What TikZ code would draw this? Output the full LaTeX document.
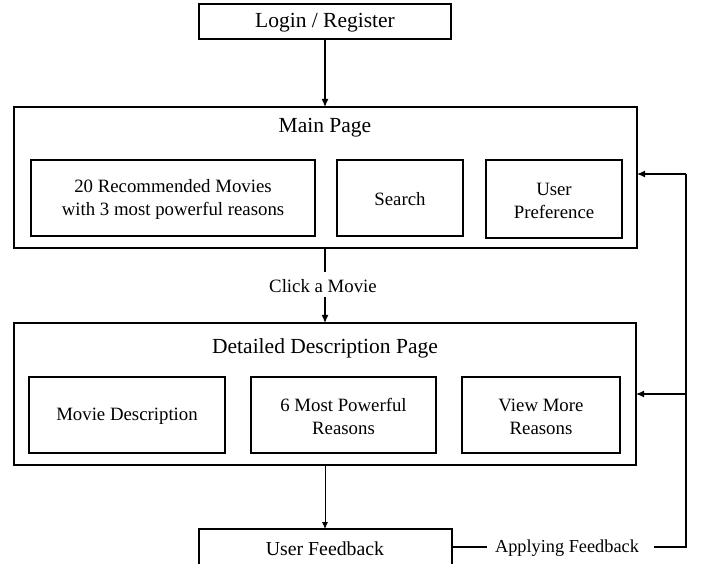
\documentclass[tikz,border=0pt]{standalone}
\usepackage{fontspec}
\setmainfont{Liberation Serif}
\usetikzlibrary{arrows.meta}
\begin{document}
\begin{tikzpicture}[x=1pt,y=-1pt,
  box/.style={draw,line width=1.4pt,inner sep=0pt},
  conn/.style={line width=1.3pt},
  arr/.style={line width=1.3pt,-{Latex[length=8pt,width=7pt]}},
  big/.style={font=\fontsize{21.5}{24}\selectfont},
  small/.style={font=\fontsize{18.8}{23}\selectfont,align=center}]
\useasboundingbox (0,0) rectangle (702,564);
% Login
\draw[box] (199,4) rectangle (451,39);
\node[big] (login) at (325,23) {Login / Register};
\coordinate (loginb) at (325,39);
% Main page
\draw[box] (14,107) rectangle (637,248);
\coordinate (maint) at (325,107);
\coordinate (mainb) at (325,248);
\coordinate (mainr) at (637,174);
\node[big] (maintitle) at (325,127.5) {Main Page};
\draw[box] (31,160) rectangle (315,236);
\node[small] (rec) at (173,199.5) {20 Recommended Movies\\with 3 most powerful reasons};
\draw[box] (337,160) rectangle (463,236);
\node[small] (search) at (400,199.5) {Search};
\draw[box] (486,160) rectangle (622,238);
\node[small] (pref) at (554,200.5) {User\\Preference};
% Detail page
\draw[box] (14,323) rectangle (636,465);
\coordinate (dett) at (325,323);
\coordinate (detb) at (325,465);
\coordinate (detr) at (636,394);
\node[big] (dettitle) at (325,348.5) {Detailed Description Page};
\draw[box] (29,377) rectangle (225,453);
\node[small] (movdesc) at (127,416.5) {Movie Description};
\draw[box] (251,377) rectangle (436,453);
\node[small] (reasons) at (343.5,416.5) {6 Most Powerful\\Reasons};
\draw[box] (462,377) rectangle (620,453);
\node[small] (viewmore) at (541,416.5) {View More\\Reasons};
% Feedback
\draw[box] (199,529) rectangle (452,566);
\coordinate (fbt) at (325,529);
\coordinate (fbr) at (452,547);
\node[font=\fontsize{19.8}{23}\selectfont] (fb) at (325,548.5) {User Feedback};
% connectors
\draw[arr] (loginb) -- (maint);
\node[small] (click) at (323,286.5) {Click a Movie};
\draw[conn] (mainb) -- (325,272);
\draw[arr] (325,297) -- (dett);
\draw[line width=0.9pt,-{Latex[length=7pt,width=6pt]}] (detb) -- (fbt);
\node[font=\fontsize{18.3}{22}\selectfont] (apply) at (567,548.5) {Applying Feedback};
\coordinate (a1) at (487,547);
\coordinate (a2) at (654,547);
\coordinate (corner) at (686,547);
\coordinate (top) at (686,174);
\coordinate (mid) at (686,394);
\draw[conn] (fbr) -- (a1);
\draw[conn] (a2) -- (corner) -- (top);
\draw[arr] (top) -- (mainr);
\draw[arr] (mid) -- (detr);
\end{tikzpicture}
\end{document}
